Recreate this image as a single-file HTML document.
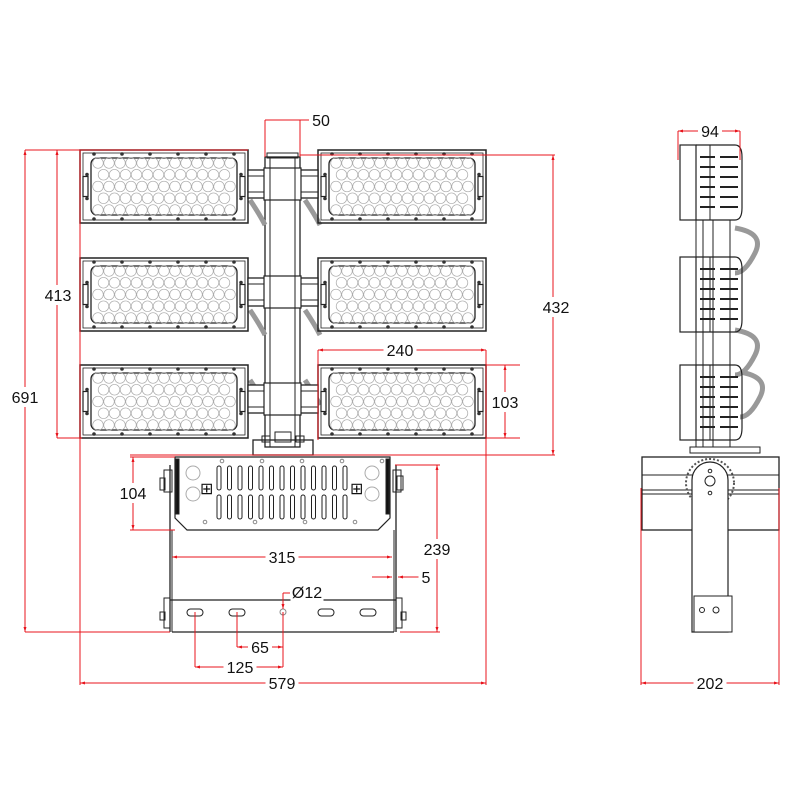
<!DOCTYPE html>
<html><head><meta charset="utf-8"><style>
html,body{margin:0;padding:0;background:#fff;}
svg{display:block}
text{font-family:"Liberation Sans Narrow","Liberation Sans",sans-serif;font-size:16px;fill:#111;}
</style></head><body>
<svg id="s" width="800" height="800" viewBox="0 0 800 800" xmlns="http://www.w3.org/2000/svg">
<defs>
<marker id="a" viewBox="0 0 10 10" refX="10" refY="5" markerWidth="7" markerHeight="5" orient="auto-start-reverse"><path d="M0,2 L10,5 L0,8 z" fill="#e8141c"/></marker>
</defs>
<g id="draw" stroke="#222" fill="none" stroke-width="1"></g>
<g id="dim" stroke="#e8141c" fill="none" stroke-width="1"></g>
<g id="txt"></g>
</svg>
<script>
const NS="http://www.w3.org/2000/svg";
const D=document.getElementById('draw'),M=document.getElementById('dim'),T=document.getElementById('txt');
function el(p,n,a){const e=document.createElementNS(NS,n);for(const k in a)e.setAttribute(k,a[k]);p.appendChild(e);return e;}
function r(x,y,w,h,o){return el(D,'rect',Object.assign({x,y,width:w,height:h},o||{}));}
function l(x1,y1,x2,y2,o,p){return el(p||D,'line',Object.assign({x1,y1,x2,y2},o||{}));}
function c(cx,cy,rr,o){return el(D,'circle',Object.assign({cx,cy,r:rr},o||{}));}
function panel(x,y,w,h){
 r(x,y,w,h,{'stroke-width':1.5});
 r(x+3,y+3,w-6,h-6,{'stroke-width':0.8});
 r(x+11,y+8,w-22,h-16,{rx:6,'stroke-width':1.3});
 // LEDs
 for(let row=0;row<5;row++){
  const cy=y+13+row*(h-26)/4;
  const off=(row%2)?5.5:0;
  for(let i=0;i<13;i++){const cx=x+18+off+i*11;if(cx>x+w-16)continue;c(cx,cy,5.3,{stroke:'#aaa','stroke-width':0.7});}
 }
 for(let i=0;i<6;i++){const sx=x+14+i*(w-28)/5;c(sx,y+4,1.8,{fill:'#333',stroke:'none'});c(sx,y+h-4,1.8,{fill:'#333',stroke:'none'});}
 r(x+3,y+h/2-10,5,20,{fill:'#fff','stroke-width':1.2});r(x+w-8,y+h/2-10,5,20,{fill:'#fff','stroke-width':1.2});
 c(x+7,y+h/2-12,1.8,{fill:'#333',stroke:'none'});c(x+7,y+h/2+12,1.8,{fill:'#333',stroke:'none'});
 c(x+w-7,y+h/2-12,1.8,{fill:'#333',stroke:'none'});c(x+w-7,y+h/2+12,1.8,{fill:'#333',stroke:'none'});
}
// pole
r(265,157,35,290,{'stroke-width':1.3});l(270,157,270,447);l(295,157,295,447);
r(267,153,31,5);
// cables
[[250,200],[250,310],[250,380],[305,200],[305,310],[305,380]].forEach(([x,y])=>{el(D,'path',{d:`M${x} ${y} q10 15 15 25`,stroke:'#999','stroke-width':5});});
// panels
[150,258,365].forEach(y=>{panel(80,y,168,73);panel(318,y,168,73);
 r(248,y+20,70,28,{fill:'#fff','stroke-width':1.3});l(248,y+26,318,y+26);l(248,y+42,318,y+42);
 r(264,y+18,37,32,{fill:'#fff','stroke-width':1.2});l(270,y+18,270,y+50);l(295,y+18,295,y+50);
});
// base plate
r(253,440,60,15,{'stroke-width':1.3});r(262,436,8,6);r(296,436,8,6);r(275,432,16,10);
// bracket box
el(D,'path',{d:'M175 457 L390 457 L390 518 L378 530 L187 530 L175 518 Z','stroke-width':1.2});
r(176,459,3,55,{fill:'#111'});r(386,459,3,55,{fill:'#111'});
for(let i=0;i<13;i++){const x=219+i*10.5;r(x-2,466,4,24,{rx:2});r(x-2,495,4,24,{rx:2});}
[[193,473],[193,494],[372,473],[372,494]].forEach(([x,y])=>c(x,y,7,{stroke:'#aaa'}));
el(D,'text',{x:200,y:494,'font-size':12,stroke:'none',fill:'#222'}).textContent='⊞';
el(D,'text',{x:350,y:494,'font-size':12,stroke:'none',fill:'#222'}).textContent='⊞';
for(let i=0;i<5;i++){c(222+i*40,461,1.8,{stroke:'#888'});}for(let i=0;i<4;i++){c(205+i*50,522,1.8,{stroke:'#888'});}
// side arms
l(170,465,170,632,{'stroke-width':1.3});l(396,465,396,632,{'stroke-width':1.3});
l(172,530,172,600);l(394,530,394,600);
r(164,470,8,22);r(393,470,8,22);r(397,476,6,14);r(160,478,5,12);
r(164,598,6,30);r(396,598,6,30);r(160,612,5,8);r(401,612,5,8);
el(D,'path',{d:'M170 600 L396 600 M172 632 L394 632','stroke-width':1.2});l(172,600,172,632);l(394,600,394,632);
[195,237,326,368].forEach(x=>r(x-8,609,16,7,{rx:3.5}));c(283,612,3,{stroke:'#888'});
// side view
function sp(y){r(680,y,16,75,{'stroke-width':1.2});el(D,'path',{d:`M696 ${y} L735 ${y} Q742 ${y} 742 ${y+12} L742 ${y+63} Q742 ${y+75} 735 ${y+75} L696 ${y+75}`,'stroke-width':1.2});l(710,y,710,y+75);
 for(let i=0;i<6;i++){const yy=y+12+i*10;l(700,yy,715,yy,{'stroke-width':2});l(720,yy,738,yy,{'stroke-width':2});}}
l(696,220,696,447);l(703,220,703,447);l(713,220,713,447);l(730,220,730,447);
[[735,228],[735,330],[740,372]].forEach(([x,y])=>el(D,'path',{d:`M${x} ${y} q30 5 20 25 t-20 20`,stroke:'#999','stroke-width':5}));
sp(145);sp(257);sp(365);
r(690,447,70,6);
r(642,457,137,73,{'stroke-width':1.3});l(642,475,779,475);l(642,490,779,490);l(642,494,779,494);
c(710,483,24,{stroke:'#555','stroke-dasharray':'2 2','stroke-width':2});
el(D,'path',{d:'M692 632 L692 480 A18 18 0 0 1 728 480 L728 632 Z',fill:'#fff','stroke-width':1.2});
c(710,481,5);c(710,471,1.8);c(710,493,1.8);
r(694,596,38,36,{fill:'#fff'});c(702,610,2.5);c(716,610,3);
// dimensions
const dm=(x1,y1,x2,y2,s,e)=>{const o={};if(s)o['marker-start']='url(#a)';if(e)o['marker-end']='url(#a)';return l(x1,y1,x2,y2,o,M);};
dm(265,120,265,157);dm(300,120,300,157);dm(265,120,300,120,0,0);dm(300,120,310,120);
dm(300,155,555,155);dm(553,155,553,455,1,1);dm(130,455,555,455);
dm(25,150,248,150);dm(25,150,25,632,1,1);dm(25,632,170,632);
dm(57,150,57,438,1,1);dm(57,438,82,438);
dm(318,350,318,440);dm(486,350,486,685);dm(318,350,486,350,1,1);
dm(486,365,520,365);dm(486,438,520,438);dm(505,365,505,438,1,1);
dm(130,457,175,457);dm(130,530,175,530);dm(133,457,133,530,1,1);
dm(395,465,440,465);dm(400,632,440,632);dm(437,465,437,632,1,1);
dm(172,557,392,557,1,1);dm(372,577,392,577,0,1);dm(420,577,398,577,0,1);
dm(283,593,283,609,0,1);dm(283,593,290,593);dm(283,612,283,667);
dm(237,612,237,647);dm(195,612,195,667);dm(237,647,283,647,1,1);dm(195,667,283,667,1,1);
dm(80,150,80,685);dm(80,683,486,683,1,1);
dm(678,131,740,131,1,1);dm(678,131,678,160);dm(740,131,740,160);
dm(641,488,641,685);dm(779,488,779,685);dm(641,683,779,683,1,1);
function t(x,y,s){const w=s.length*9+6;el(T,'rect',{x:x-w/2,y:y-10,width:w,height:20,fill:'#fff'});el(T,'text',{x,y:y+6,'text-anchor':'middle'}).textContent=s;}
t(321,120,'50');t(556,307,'432');t(25,397,'691');t(58,295,'413');t(400,350,'240');t(505,402,'103');
t(133,493,'104');t(437,549,'239');t(282,557,'315');t(426,577,'5');t(307,592,'Ø12');t(260,647,'65');
t(240,667,'125');t(282,683,'579');t(710,131,'94');t(710,683,'202');
</script>
</body></html>
